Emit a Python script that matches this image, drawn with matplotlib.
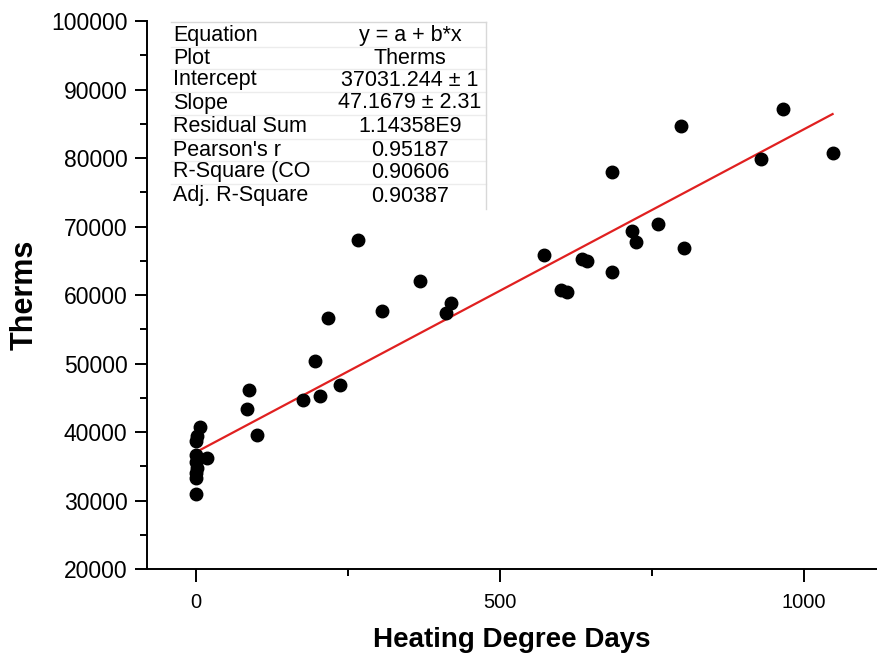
import matplotlib
matplotlib.use('Agg')
import matplotlib.pyplot as plt
from matplotlib.ticker import MultipleLocator

plt.rcParams['font.family'] = ['Liberation Sans', 'DejaVu Sans']

# data
hdd = [7, 2, 0, 1, 0, 2, 0, 1, 0, 19,
       84, 88, 101, 176, 205, 196, 217, 238, 267, 306,
       368, 411, 420, 573, 601, 611, 635, 643, 684, 684,
       717, 724, 760, 798, 802, 929, 965, 1047]
therms = [40700, 39400, 38700, 36600, 35600, 34800, 34000, 33300, 31000, 36200,
          43400, 46100, 39500, 44600, 45200, 50400, 56700, 46800, 68000, 57700,
          62100, 57300, 58800, 65900, 60800, 60500, 65300, 64900, 63300, 78000,
          69300, 67700, 70400, 84700, 66800, 79800, 87100, 80800]

intercept = 37031.244
slope = 47.1679

table_keys = ['Equation', 'Plot', 'Intercept', 'Slope', 'Residual Sum',
              "Pearson's r", 'R-Square (CO', 'Adj. R-Square']
table_vals = ['y = a + b*x', 'Therms', '37031.244 \u00b1 1', '47.1679 \u00b1 2.31',
              '1.14358E9', '0.95187', '0.90606', '0.90387']

W, H = 877, 658
fig = plt.figure(figsize=(W / 100, H / 100), dpi=100)
ax = fig.add_axes([147 / W, 1 - 569 / H, 1 - 147 / W, (569 - 21) / H])

ax.plot(hdd, therms, 'o', color='black', markersize=9, zorder=3)
x0, x1 = min(hdd), max(hdd)
ax.plot([x0, x1], [intercept + slope * x0, intercept + slope * x1],
        color='#e02020', lw=1.6, zorder=2)

ax.set_xlim(-80, 1120)
ax.set_ylim(20000, 100000)
ax.xaxis.set_major_locator(MultipleLocator(500))
ax.xaxis.set_minor_locator(MultipleLocator(250))
ax.yaxis.set_major_locator(MultipleLocator(10000))
ax.yaxis.set_minor_locator(MultipleLocator(5000))
ax.spines['top'].set_visible(False)
ax.spines['right'].set_visible(False)
for s in ['left', 'bottom']:
    ax.spines[s].set_linewidth(1.4)
ax.tick_params(axis='both', which='major', direction='out', width=1.4, length=9)
ax.tick_params(axis='both', which='minor', direction='out', width=1.4, length=5)
ax.tick_params(axis='y', labelsize=16.5, pad=5)
ax.tick_params(axis='x', labelsize=14.5, pad=8)
ax.set_xlabel('Heating Degree Days', fontsize=20, fontweight='bold', labelpad=11)
ax.set_ylabel('Therms', fontsize=22, fontweight='bold', labelpad=8)

# fit results table
row_y = [36, 58, 80, 103, 127, 150, 172, 196]
for i, (k, v) in enumerate(zip(table_keys, table_vals)):
    fy = 1 - row_y[i] / H
    fig.text(173 / W, fy, k, fontsize=15.5, ha='left', va='center')
    fig.text(410 / W, fy, v, fontsize=15.5, ha='center', va='center')
    if i < len(table_keys) - 1:
        ly = 1 - (row_y[i] + row_y[i + 1]) / 2 / H
        fig.add_artist(plt.Line2D([171 / W, 486 / W], [ly, ly], color='#ececec', lw=1,
                                  transform=fig.transFigure))
fig.add_artist(plt.Line2D([171 / W, 486 / W], [1 - 22 / H, 1 - 22 / H], color='#d8d8d8', lw=1,
                          transform=fig.transFigure))
fig.add_artist(plt.Line2D([486 / W, 486 / W], [1 - 22 / H, 1 - 209 / H], color='#d8d8d8', lw=1,
                          transform=fig.transFigure))

fig.savefig('out.png', dpi=100)
